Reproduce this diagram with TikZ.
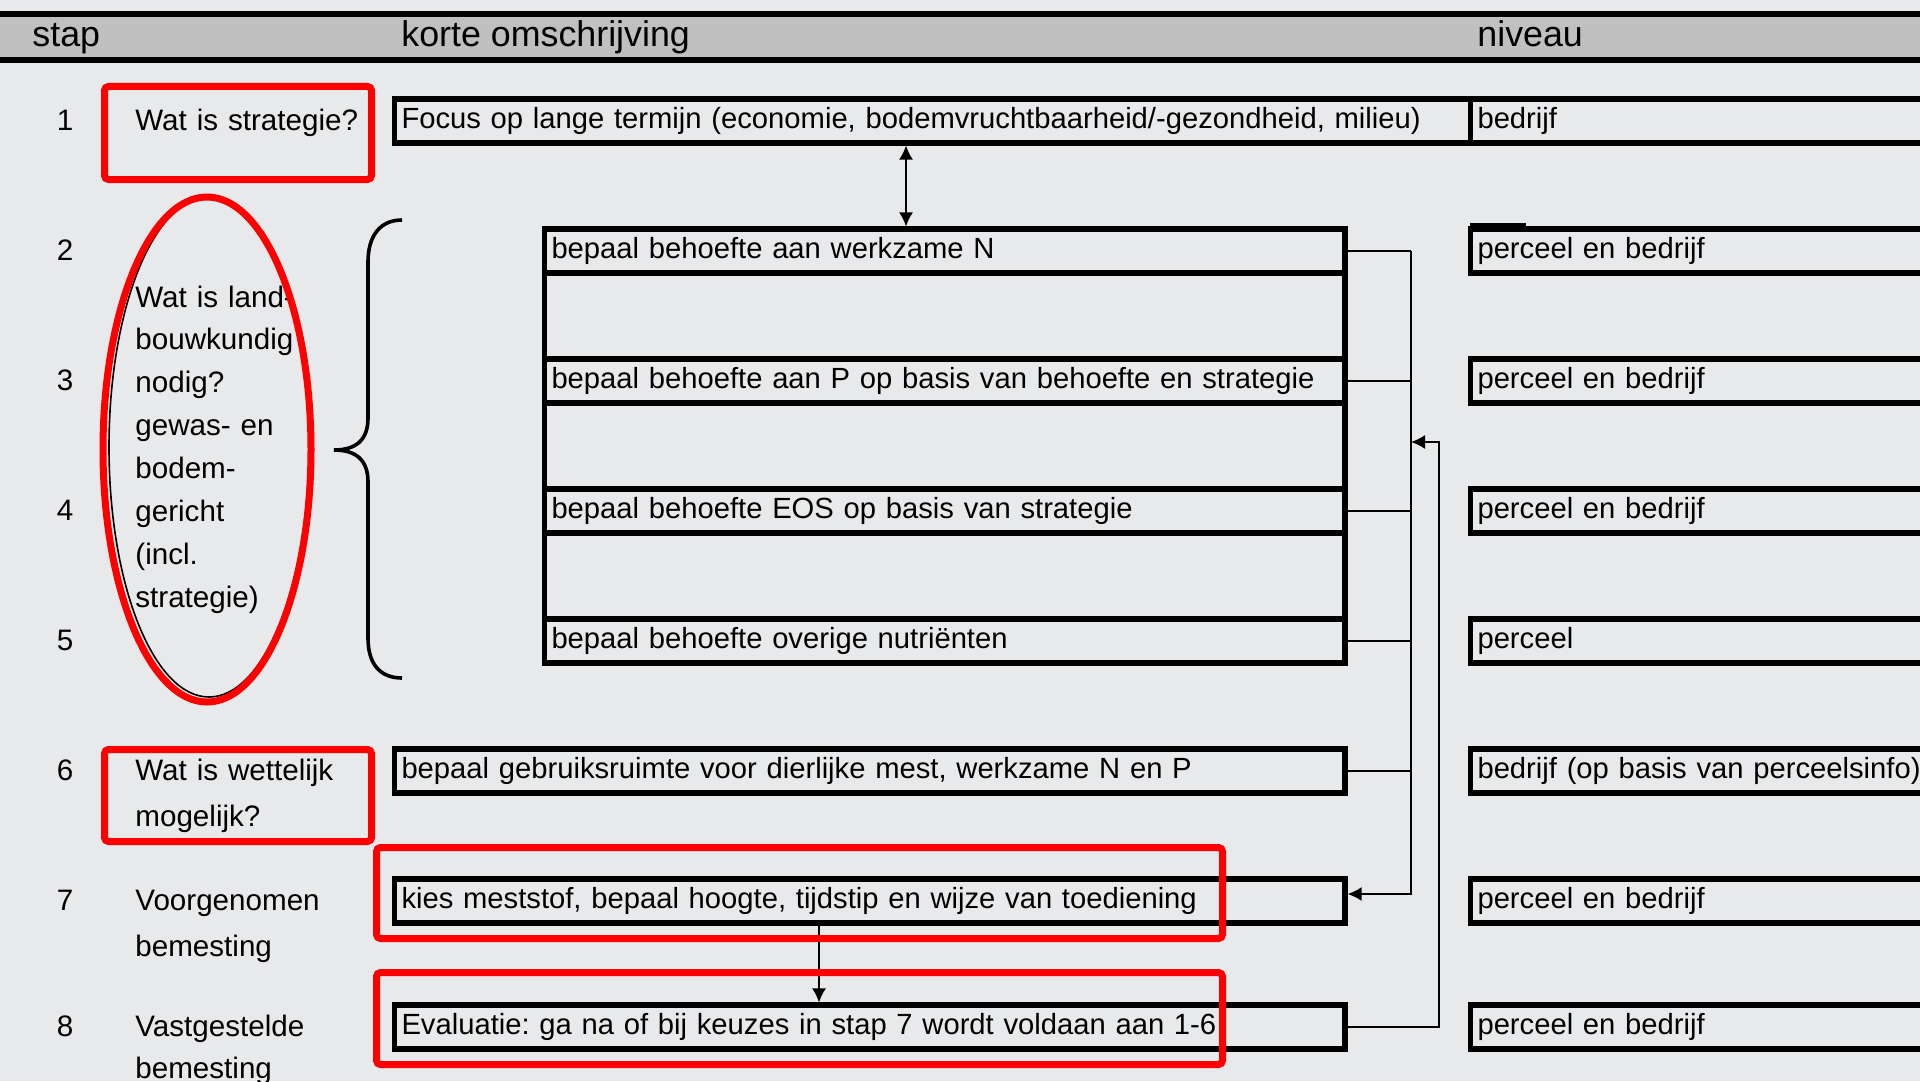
\documentclass[tikz,border=0pt]{standalone}
\usepackage{fontspec}
\setmainfont{Liberation Sans}
\usepackage{tikz}
\usetikzlibrary{positioning,calc,arrows.meta}
\definecolor{pagegray}{HTML}{E8E9EB}
\definecolor{headgray}{HTML}{C0C0C0}
\definecolor{markred}{HTML}{FF0000}
\frenchspacing

\begin{document}
\begin{tikzpicture}[x=0.5pt, y=-0.5pt, >={Latex[length=7pt,width=7pt]},
    txt/.style={font=\fontsize{14.8}{23}\selectfont},
    boxtxt/.style={font=\fontsize{14.6}{23}\selectfont},
    rowbox/.style={draw, rectangle, line width=2.6pt, outer sep=0pt, anchor=west, minimum height=22pt, inner xsep=3.5pt, inner ysep=0pt, text height=0.78em, text depth=0pt, align=left, boxtxt},
    descwide/.style={rowbox, text width=531pt},
    descmid/.style={rowbox, text width=393.25pt},
    descrow/.style={rowbox, text width=468.25pt},
    levelbox/.style={rowbox, text width=300pt},
    num/.style={anchor=base, inner sep=0pt, txt},
    question/.style={anchor=base west, text width=130pt, align=left, inner sep=0pt, txt},
    headtxt/.style={anchor=base west, inner sep=0pt, font=\fontsize{17.9}{20}\selectfont},
    link/.style={line width=0.8pt},
    redmark/.style={draw=markred, line width=3.5pt, rounded corners=2pt}]
    \path[use as bounding box, fill=pagegray] (0,0) rectangle (1920,1081);

    \fill[headgray] (0,14) rectangle (1920,60);
    \draw[line width=3pt] (0,14) -- (1920,14);
    \draw[line width=3pt] (0,60) -- (1920,60);
    \node[headtxt] (hstap) at (32,47) {stap};
    \node[headtxt] (hdesc) at (401,47) {korte omschrijving};
    \node[headtxt] (hlevel) at (1477,47) {niveau};

    \node[num] (s1) at (65,130) {1};
    \node[num] (s2) at (65,260) {2};
    \node[num] (s3) at (65,390) {3};
    \node[num] (s4) at (65,520) {4};
    \node[num] (s5) at (65,650) {5};
    \node[num] (s6) at (65,780) {6};
    \node[num] (s7) at (65,910) {7};
    \node[num] (s8) at (65,1036) {8};

    \node[question] (q1) at (135,130) {Wat is strategie?};
    \node[anchor=base west, text width=150pt, align=left, inner sep=0pt, font=\fontsize{14.8}{21.45}\selectfont] (q2) at (135,307) {Wat is land-\\bouwkundig\\nodig?\\gewas- en\\bodem-\\gericht\\(incl.\\strategie)};
    \node[question] (q6) at (135,780) {Wat is wettelijk\\mogelijk?};
    \node[question] (q7) at (135,910) {Voorgenomen\\bemesting};
    \node[question] (q8) at (135,1036) {Vastgestelde\\[-2pt]bemesting};

    \node[descwide] (d1) at (394.5,121) {Focus op lange termijn (economie, bodemvruchtbaarheid/-gezondheid, milieu)};
    \node[descmid] (d2) at (544.5,251) {bepaal behoefte aan werkzame N};
    \node[descmid] (d3) at (544.5,381) {bepaal behoefte aan P op basis van behoefte en strategie};
    \node[descmid] (d4) at (544.5,511) {bepaal behoefte EOS op basis van strategie};
    \node[descmid] (d5) at (544.5,641) {bepaal behoefte overige nutriënten};
    \node[descrow] (d6) at (394.5,771) {bepaal gebruiksruimte voor dierlijke mest, werkzame N en P};
    \node[descrow] (d7) at (394.5,901) {kies meststof, bepaal hoogte, tijdstip en wijze van toediening};
    \node[descrow] (d8) at (394.5,1027) {Evaluatie: ga na of bij keuzes in stap 7 wordt voldaan aan 1-6};
    \draw[line width=2.6pt] (d2.north west) -- (d5.south west);
    \draw[line width=2.6pt] (d2.north east) -- (d5.south east);

    \node[levelbox] (n1) at (1470.5,121) {bedrijf};
    \node[levelbox] (n2) at (1470.5,251) {perceel en bedrijf};
    \node[levelbox] (n3) at (1470.5,381) {perceel en bedrijf};
    \node[levelbox] (n4) at (1470.5,511) {perceel en bedrijf};
    \node[levelbox] (n5) at (1470.5,641) {perceel};
    \node[levelbox] (n6) at (1470.5,771) {bedrijf (op basis van perceelsinfo)};
    \node[levelbox] (n7) at (1470.5,901) {perceel en bedrijf};
    \node[levelbox] (n8) at (1470.5,1027) {perceel en bedrijf};
    \draw[line width=1.5pt] (1470,224) -- (1526,224);

    \coordinate (up) at (906,0);
    \coordinate (down) at (819,0);
    \coordinate (bus) at (1411,0);
    \coordinate (back) at (1439,442);

    \draw[link, <->, shorten <=1.3pt, shorten >=1.3pt] (d1.south -| up) -- (d2.north -| up);
    \draw[link] (d2.east) -- (d2.east -| bus);
    \draw[link] (d3.east) -- (d3.east -| bus);
    \draw[link] (d4.east) -- (d4.east -| bus);
    \draw[link] (d5.east) -- (d5.east -| bus);
    \draw[link] (d6.east) -- (d6.east -| bus);
    \draw[link, ->, shorten >=1.3pt] (d2.east -| bus) |- ([yshift=3.5pt]d7.east);
    \draw[link, ->] (d8.east) -| (back) -- (back -| bus);
    \draw[link, ->, shorten <=1.3pt, shorten >=1.3pt] (d7.south -| down) -- (d8.north -| down);

    \draw[line width=1.8pt] (402,220) .. controls (380,220) and (368,236) .. (368,262) -- (368,418) .. controls (368,440) and (356,450) .. (334,450) .. controls (356,450) and (368,460) .. (368,482) -- (368,638) .. controls (368,664) and (380,678) .. (402,678);

    \draw[line width=0.8pt] (209,447) ellipse [x radius=100, y radius=250];
    \draw[redmark] (207,449.5) ellipse [x radius=104, y radius=252.5];
    \draw[redmark] (104.5,86.5) rectangle (371.5,179.5);
    \draw[redmark] (104.5,749.5) rectangle (371.5,841.5);
    \draw[redmark] (376.5,847.5) rectangle (1222.5,938.5);
    \draw[redmark] (376.5,972.5) rectangle (1222.5,1064.5);
\end{tikzpicture}
\end{document}
